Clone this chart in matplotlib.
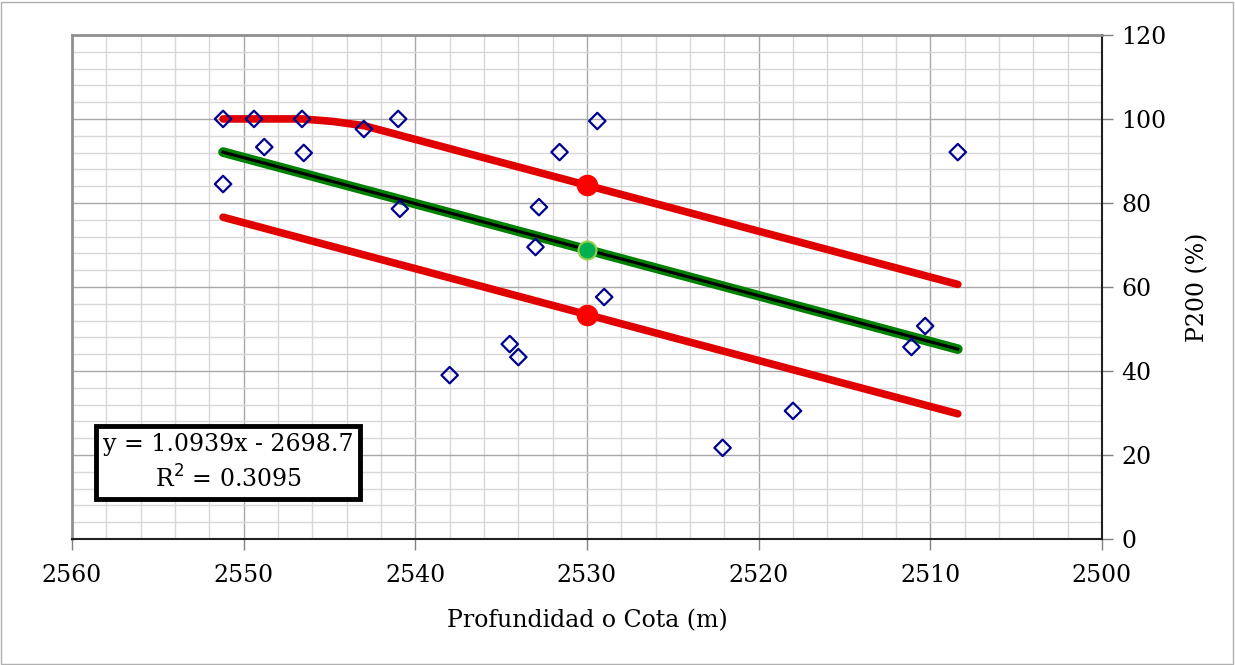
import matplotlib
matplotlib.use("Agg")
import matplotlib.pyplot as plt
from matplotlib.patches import Rectangle
from matplotlib.ticker import MultipleLocator

# datos
cota = [2551.2, 2551.2, 2549.4, 2548.8, 2546.6, 2546.5, 2543.0, 2541.0, 2540.9,
        2538.0, 2534.5, 2534.0, 2533.0, 2532.8, 2531.6, 2529.4, 2529.0, 2522.1,
        2518.0, 2511.1, 2510.3, 2508.4]
p200 = [100.0, 84.5, 100.0, 93.3, 100.0, 91.9, 97.6, 100.0, 78.6,
        39.0, 46.4, 43.3, 69.5, 79.0, 92.1, 99.5, 57.6, 21.7,
        30.5, 45.7, 50.7, 92.1]

# linea de tendencia y bandas
fit_x = [2551.2, 2508.4]
fit_y = [92.1, 45.2]
sup_x = [2551.2, 2549.4, 2546.6, 2544.8, 2543.0, 2508.4]
sup_y = [100.0, 100.0, 100.0, 99.4, 98.4, 60.6]
inf_x = [2551.2, 2508.4]
inf_y = [76.6, 29.8]
ref_x = 2530.0
ref_y = [84.3, 68.9, 53.4]

ecuacion = "y = 1.0939x - 2698.7\nR$^2$ = 0.3095"

plt.rcParams['font.family'] = ['DejaVu Serif']

fig = plt.figure(figsize=(12.35, 6.65), dpi=100)
ax = fig.add_axes([0.0583, 0.1895, 0.834, 0.758])

ax.plot(sup_x, sup_y, color="#E00000", lw=5.5, solid_capstyle="round", zorder=3)
ax.plot(inf_x, inf_y, color="#E00000", lw=5.5, solid_capstyle="round", zorder=3)
ax.plot(fit_x, fit_y, color="#008000", lw=7, solid_capstyle="round", zorder=3)
ax.plot(fit_x, fit_y, color="black", lw=2.2, zorder=4)

ax.scatter(cota, p200, marker="D", s=70, facecolors="none", edgecolors="#000090",
           linewidths=1.6, zorder=5)

ax.plot([ref_x], [ref_y[0]], "o", color="#FF0000", ms=14.5, zorder=6)
ax.plot([ref_x], [ref_y[2]], "o", color="#FF0000", ms=14.5, zorder=6)
ax.plot([ref_x], [ref_y[1]], "o", color="#00B050", mec="#92D050", mew=1.5, ms=13, zorder=6)

ax.set_xlim(2560, 2500)
ax.set_ylim(0, 120)
ax.xaxis.set_major_locator(MultipleLocator(10))
ax.xaxis.set_minor_locator(MultipleLocator(2))
ax.yaxis.set_major_locator(MultipleLocator(20))
ax.yaxis.set_minor_locator(MultipleLocator(4))
ax.grid(which="major", color="#A8A8A8", lw=1.0, zorder=0)
ax.grid(which="minor", color="#D8D8D8", lw=1.0, zorder=0)
ax.set_axisbelow(True)

ax.yaxis.tick_right()
ax.yaxis.set_label_position("right")
ax.tick_params(which="major", direction="out", length=8, width=1, color="#808080",
               labelsize=17, pad=6)
ax.tick_params(which="minor", length=0)
ax.tick_params(axis="x", pad=10)

for s in ["left", "top"]:
    ax.spines[s].set_color("#909090")
    ax.spines[s].set_linewidth(2)
for s in ["right", "bottom"]:
    ax.spines[s].set_color("#202020")
    ax.spines[s].set_linewidth(1.5)

ax.set_xlabel("Profundidad o Cota (m)", fontsize=17, labelpad=16)
ax.set_ylabel("P200 (%)", fontsize=17, labelpad=14)

ax.text(0.1515, 0.151, ecuacion, transform=ax.transAxes, fontsize=17, ha="center",
        va="center", linespacing=1.4, zorder=7,
        bbox=dict(boxstyle="square,pad=0.3", fc="white", ec="black", lw=3.5))

fig.patches.append(Rectangle((0.001, 0.002), 0.997, 0.995, transform=fig.transFigure,
                             fill=False, ec="#B0B0B0", lw=1))

fig.savefig("out.png", dpi=100)
